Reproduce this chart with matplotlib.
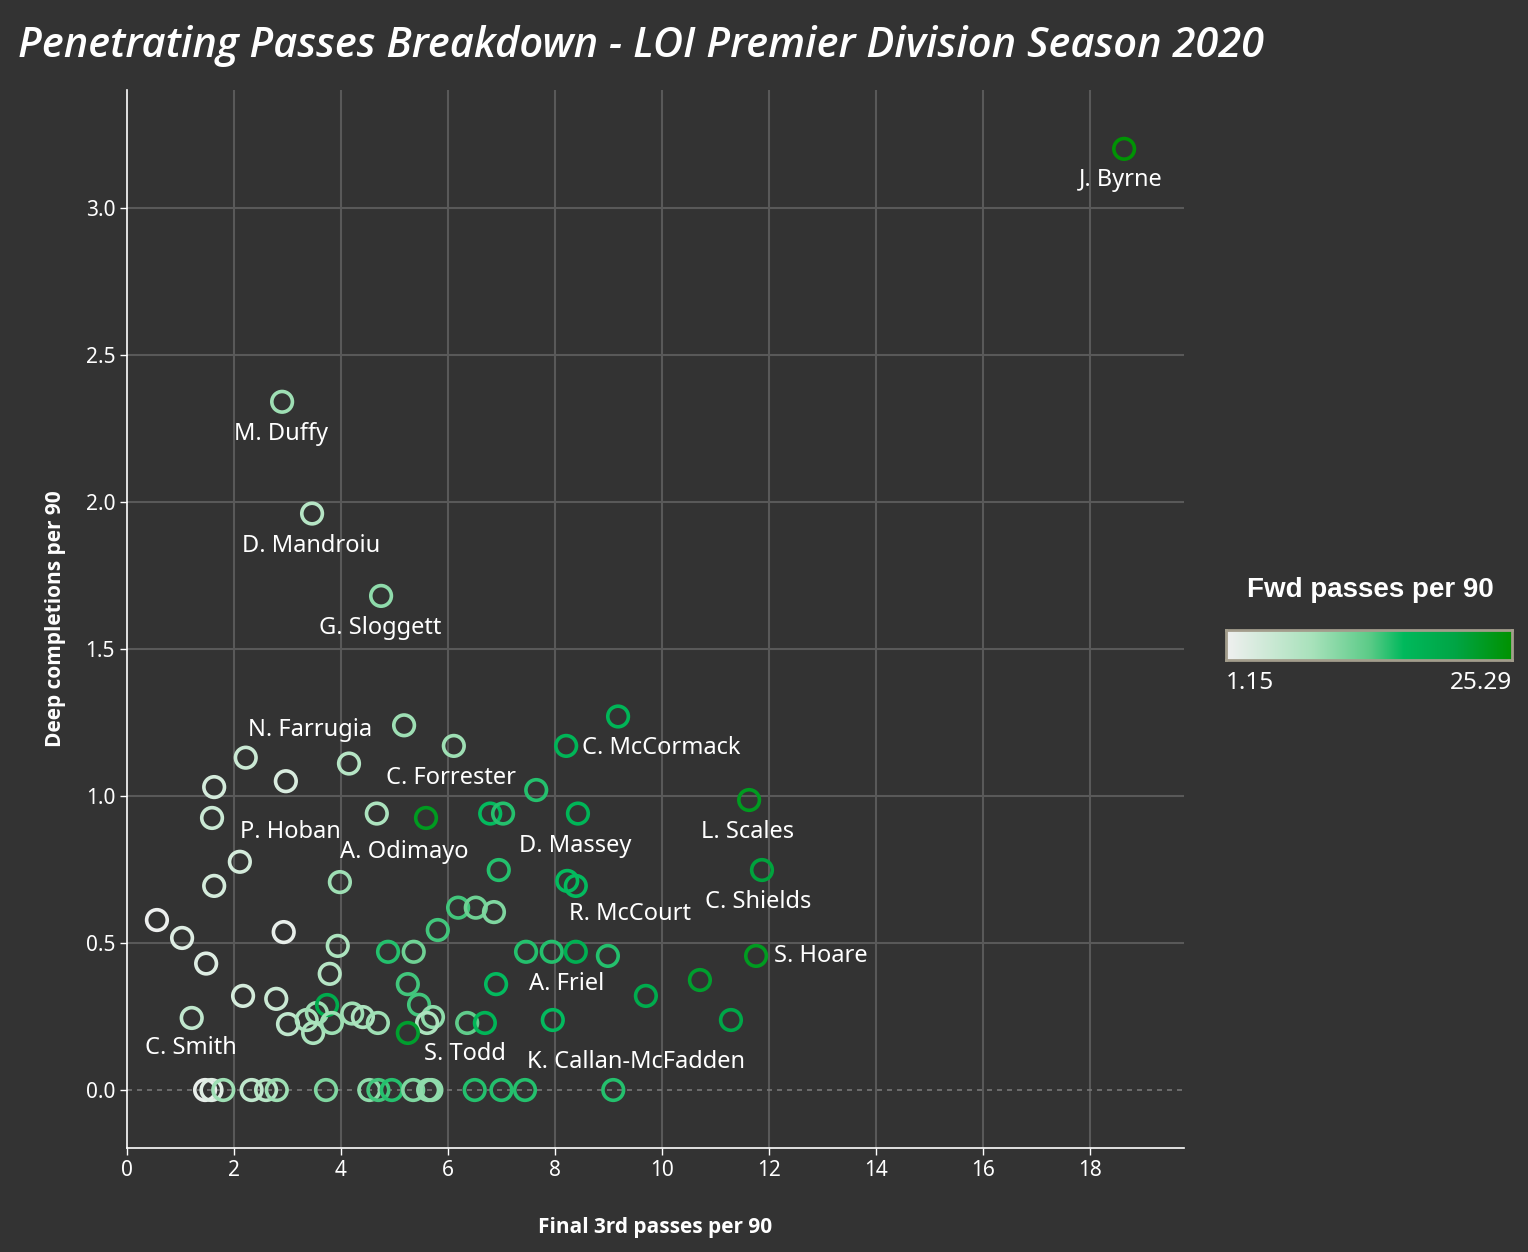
import matplotlib
matplotlib.use("Agg")
import matplotlib.pyplot as plt
import numpy as np
from matplotlib.colors import LinearSegmentedColormap, Normalize

BG = "#333333"
GRID = "#595959"

# final 3rd passes per 90, deep completions per 90, fwd passes per 90
final3rd = [18.64, 2.90, 3.46, 4.75, 5.18, 6.11, 2.22, 4.15, 2.97, 1.63,
            1.59, 4.67, 5.59, 6.79, 7.03, 7.65, 8.21, 9.18, 8.43, 11.63,
            11.87, 2.11, 1.63, 3.98, 6.95, 8.23, 8.39, 0.56, 1.03, 1.48,
            2.93, 3.94, 5.81, 6.19, 6.52, 6.86, 4.88, 5.36, 7.46, 7.94,
            8.39, 8.99, 11.76, 10.71, 9.70, 11.29, 7.96, 6.90, 3.79, 5.25,
            2.17, 2.79, 1.21, 3.01, 3.36, 3.55, 3.74, 3.48, 3.83, 4.21,
            4.41, 4.69, 5.46, 5.72, 5.61, 5.25, 6.36, 6.69,
            1.46, 1.58, 1.80, 2.33, 2.60, 2.80, 3.72, 4.53, 4.70, 4.95,
            5.35, 5.63, 5.69, 6.50, 7.00, 7.44, 9.09]
deep = [3.20, 2.34, 1.96, 1.68, 1.24, 1.17, 1.13, 1.11, 1.05, 1.03,
        0.925, 0.94, 0.925, 0.94, 0.94, 1.02, 1.17, 1.27, 0.94, 0.986,
        0.748, 0.776, 0.694, 0.707, 0.748, 0.711, 0.694, 0.578, 0.517, 0.43,
        0.537, 0.49, 0.544, 0.62, 0.62, 0.605, 0.47, 0.47, 0.47, 0.47,
        0.47, 0.456, 0.456, 0.374, 0.32, 0.238, 0.238, 0.36, 0.395, 0.36,
        0.32, 0.31, 0.245, 0.224, 0.238, 0.262, 0.289, 0.194, 0.228, 0.26,
        0.248, 0.228, 0.29, 0.248, 0.228, 0.194, 0.228, 0.228,
        0, 0, 0, 0, 0, 0, 0, 0, 0, 0,
        0, 0, 0, 0, 0, 0, 0]
fwd = [25.0, 9, 7, 10, 9, 9, 5, 7, 3.5, 4,
       5, 8, 23, 16, 15, 15, 17, 17, 17, 23,
       21, 4, 4, 9, 15, 16, 16, 1.5, 3, 3,
       2, 8, 14, 14, 12, 11, 15, 12, 15, 15,
       18, 15, 23, 22, 19, 20, 16, 16, 7, 14,
       4, 5, 6, 6, 8, 9, 19, 8, 9, 9,
       8, 9, 14, 10, 8, 22, 13, 17,
       2, 3, 9, 6, 7, 9, 11, 10, 14, 15,
       11, 10, 10, 15, 15, 15, 15]

names = ["J. Byrne", "M. Duffy", "D. Mandroiu", "G. Sloggett", "N. Farrugia",
         "C. McCormack", "C. Forrester", "L. Scales", "P. Hoban", "D. Massey",
         "A. Odimayo", "C. Shields", "R. McCourt", "S. Hoare", "A. Friel",
         "C. Smith", "S. Todd", "K. Callan-McFadden"]
name_x = [18.58, 2.88, 3.44, 4.73, 3.42, 9.98, 6.06, 11.61, 3.05, 8.37,
          5.18, 11.79, 9.40, 12.97, 8.21, 1.20, 6.32, 9.51]
name_y = [3.095, 2.231, 1.850, 1.571, 1.224, 1.163, 1.061, 0.878, 0.878, 0.830,
          0.810, 0.639, 0.599, 0.456, 0.361, 0.143, 0.122, 0.095]

fwd_min, fwd_max = 1.15, 25.29

cmap = LinearSegmentedColormap.from_list("fwd", [
    (0.0, "#f0f0f0"), (0.3, "#a8e2bb"), (0.5, "#5ccb88"),
    (0.62, "#00b95c"), (0.8, "#00a545"), (1.0, "#009200")])
norm = Normalize(fwd_min, fwd_max)

fig = plt.figure(figsize=(15.28, 12.52), dpi=100, facecolor=BG)
ax = fig.add_axes([0.0831, 0.0831, 0.6918, 0.845])
ax.set_facecolor(BG)

ax.scatter(final3rd, deep, s=220, facecolors="none",
           edgecolors=cmap(norm(np.array(fwd))), linewidths=2.6, zorder=3)

for n, lx, ly in zip(names, name_x, name_y):
    ax.text(lx, ly, n, color="white", fontsize=17, family="Noto Sans",
            ha="center", va="center", zorder=4)

ax.set_xlim(0, 19.76)
ax.set_ylim(-0.197, 3.40)
ax.set_xticks(np.arange(0, 19, 2))
ax.set_yticks([0, 0.5, 1.0, 1.5, 2.0, 2.5, 3.0])
ax.set_yticklabels(["0.0", "0.5", "1.0", "1.5", "2.0", "2.5", "3.0"])
for sp in ["top", "right"]:
    ax.spines[sp].set_visible(False)
for sp in ["left", "bottom"]:
    ax.spines[sp].set_color("white")
    ax.spines[sp].set_linewidth(1.2)
ax.tick_params(colors="white", labelsize=15, length=5, width=1)
for lab in ax.get_xticklabels() + ax.get_yticklabels():
    lab.set_family("Noto Sans")

for xv in range(2, 19, 2):
    ax.axvline(xv, color=GRID, lw=1.5, zorder=1)
for yv in [0.5, 1.0, 1.5, 2.0, 2.5, 3.0]:
    ax.axhline(yv, color=GRID, lw=1.5, zorder=1)
ax.axhline(0, color="#777777", lw=1.2, ls=(0, (3, 3)), zorder=1)

ax.set_xlabel("Final 3rd passes per 90", color="white", fontsize=15,
              fontweight="bold", family="Open Sans", labelpad=26)
ax.set_ylabel("Deep completions per 90", color="white", fontsize=15,
              fontweight="bold", family="Open Sans", labelpad=14)

fig.text(0.012, 0.963, "Penetrating Passes Breakdown - LOI Premier Division Season 2020",
         color="white", fontsize=30, style="italic", fontweight="semibold",
         family="Open Sans", ha="left", va="center")

# colour legend
cax = fig.add_axes([1226 / 1528, 1 - 660 / 1252, 286 / 1528, 30 / 1252])
grad = np.linspace(0, 1, 256).reshape(1, -1)
cax.imshow(grad, aspect="auto", cmap=cmap, extent=[0, 1, 0, 1])
cax.set_xticks([])
cax.set_yticks([])
for sp in cax.spines.values():
    sp.set_color("#a39d8c")
    sp.set_linewidth(2)
fig.text(1370 / 1528, 1 - 590 / 1252, "Fwd passes per 90", color="white",
         fontsize=20, fontweight="bold", family="Liberation Sans",
         ha="center", va="center")
fig.text(1226 / 1528, 1 - 683 / 1252, "1.15", color="white", fontsize=17.5,
         family="Noto Sans", ha="left", va="center")
fig.text(1512 / 1528, 1 - 683 / 1252, "25.29", color="white", fontsize=17.5,
         family="Noto Sans", ha="right", va="center")

fig.savefig("out.png", dpi=100, facecolor=BG)
